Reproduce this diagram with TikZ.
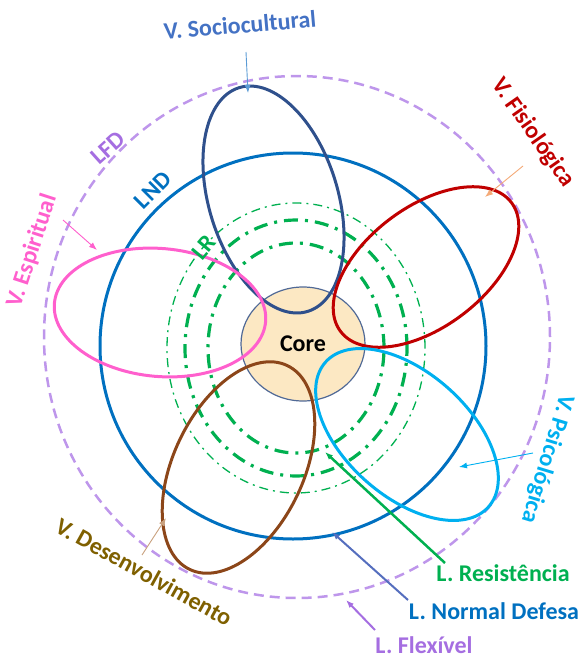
\documentclass[tikz,border=0pt]{standalone}
\usepackage{fontspec}
\setmainfont{Carlito}
\usetikzlibrary{arrows.meta, shapes.geometric}
\definecolor{flexcol}{RGB}{190,150,235}
\definecolor{flextext}{RGB}{165,110,225}
\definecolor{normcol}{RGB}{0,112,192}
\definecolor{normarrow}{RGB}{85,110,190}
\definecolor{rescol}{RGB}{0,176,80}
\definecolor{sociocol}{RGB}{47,80,140}
\definecolor{sociotext}{RGB}{68,114,196}
\definecolor{socioarrow}{RGB}{91,155,213}
\definecolor{fisiocol}{RGB}{192,0,0}
\definecolor{fisioarrow}{RGB}{244,170,120}
\definecolor{psicol}{RGB}{0,176,240}
\definecolor{espcol}{RGB}{255,95,205}
\definecolor{descol}{RGB}{140,70,25}
\definecolor{destext}{RGB}{127,96,0}
\definecolor{desarrow}{RGB}{200,160,125}
\definecolor{corefill}{RGB}{252,232,195}
\definecolor{coreline}{RGB}{80,105,150}

\begin{document}
\begin{tikzpicture}[
        x=1pt, y=1pt, % 1 px = 1 pt
        lbl/.style = {font=\fontsize{24}{27}\selectfont\bfseries, inner sep=0pt}, % Подписи
        petal/.style = {line width=3pt}, % Овалы переменных
        pointer/.style = {-{Latex[length=8pt,width=6pt]}, line width=0.9pt}, % Стрелки
        dashdot/.style = {rescol, line width=3.2pt, dash pattern=on 14pt off 7pt on 3pt off 7pt},
    ]
    \useasboundingbox (0,0) rectangle (579,-659);

    % Линии
    \draw[flexcol, line width=2.5pt, dash pattern=on 10pt off 6pt] (297,-337) ellipse [x radius=253, y radius=261];
    \draw[normcol, line width=3pt] (293,-346) circle [radius=193];
    \draw[rescol, line width=1.3pt, dash pattern=on 9pt off 5pt on 2pt off 5pt] (296,-348) ellipse [x radius=129, y radius=145];
    \draw[dashdot] (296,-348) ellipse [x radius=111, y radius=128];
    \draw[dashdot] (296,-348) ellipse [x radius=88, y radius=105];

    \node[ellipse, draw=coreline, line width=1.2pt, fill=corefill, minimum width=124, minimum height=114,
        font=\fontsize{24}{27}\selectfont\bfseries] (core) at (303,-344) {Core};

    % Переменные
    \draw[petal, sociocol, rotate around={107:(273.5,-199.5)}] (273.5,-199.5) ellipse [x radius=117, y radius=64.5];
    \draw[petal, fisiocol, rotate around={37:(426,-267)}] (426,-267) ellipse [x radius=107, y radius=60];
    \draw[petal, psicol, rotate around={-41.6:(407,-434.5)}] (407,-434.5) ellipse [x radius=109, y radius=62];
    \draw[petal, descol, rotate around={64.4:(238.5,-467.5)}] (238.5,-467.5) ellipse [x radius=113, y radius=65];
    \draw[petal, espcol, rotate around={-5:(160,-312.5)}] (160,-312.5) ellipse [x radius=106, y radius=64];

    % Подписи
    \node[lbl, sociotext, rotate=5] (socio) at (240,-25) {V. Sociocultural};
    \node[lbl, fisiocol, rotate=-55] (fisio) at (533,-133) {V. Fisiológica};
    \node[lbl, psicol, rotate=-107] (psico) at (547,-459) {V. Psicológica};
    \node[lbl, destext, rotate=-29] (desenv) at (144,-572) {V. Desenvolvimento};
    \node[lbl, espcol, rotate=72] (espir) at (32,-251) {V. Espiritual};
    \node[lbl, flextext, rotate=42] (lfd) at (108,-148) {LFD};
    \node[lbl, normcol, rotate=45] (lnd) at (153,-190) {LND};
    \node[lbl, rescol, rotate=50] (lr) at (204,-247) {LR};
    \node[lbl, rescol] (resist) at (503,-573) {L. Resistência};
    \node[lbl, normcol] (normal) at (494,-611) {L. Normal Defesa};
    \node[lbl, flextext] (flex) at (424,-645) {L. Flexível};

    % Стрелки
    \coordinate (socio tail) at (246,-52);  \coordinate (socio tip) at (248,-93);
    \coordinate (fisio tail) at (523,-166); \coordinate (fisio tip) at (485,-197);
    \coordinate (psico tail) at (533,-453); \coordinate (psico tip) at (459,-467);
    \coordinate (espir tail) at (63,-220);  \coordinate (espir tip) at (97,-250);
    \coordinate (desenv tail) at (142,-555); \coordinate (desenv tip) at (166,-518);
    \coordinate (resist tail) at (445,-563); \coordinate (resist tip) at (325,-452);
    \coordinate (normal tail) at (408,-600); \coordinate (normal tip) at (332,-532);
    \coordinate (flex tail) at (375,-630);  \coordinate (flex tip) at (346,-600);

    \draw[pointer, socioarrow] (socio tail) -- (socio tip);
    \draw[pointer, fisioarrow] (fisio tail) -- (fisio tip);
    \draw[pointer, psicol] (psico tail) -- (psico tip);
    \draw[pointer, espcol] (espir tail) -- (espir tip);
    \draw[pointer, desarrow] (desenv tail) -- (desenv tip);
    \draw[pointer, rescol, line width=2.5pt] (resist tail) -- (resist tip);
    \draw[pointer, normarrow, line width=2pt] (normal tail) -- (normal tip);
    \draw[pointer, flextext, line width=2pt] (flex tail) -- (flex tip);
\end{tikzpicture}
\end{document}
